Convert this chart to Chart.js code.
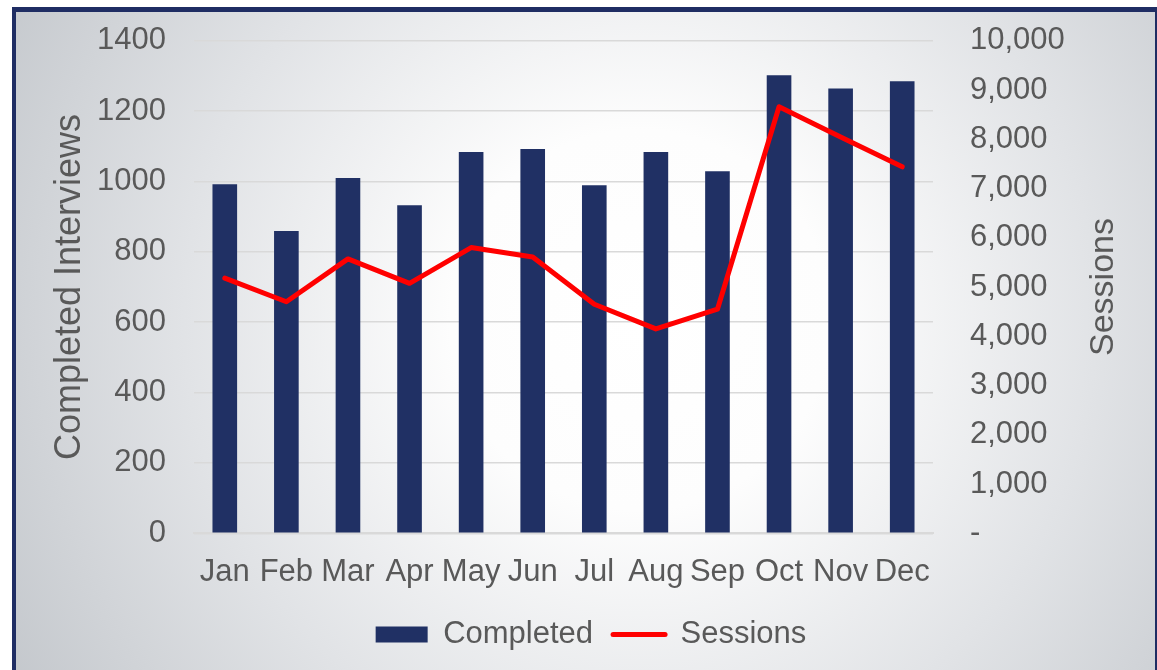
<!DOCTYPE html>
<html>
<head>
<meta charset="utf-8">
<script src="https://cdn.jsdelivr.net/npm/chart.js@4"></script>
<style>
  html, body { margin: 0; padding: 0; background: #ffffff; }
  #wrap { width: 1157px; height: 670px; position: relative; }
  canvas { display: block; }
</style>
</head>
<body>
<div id="wrap"><canvas id="chart" width="1157" height="670"></canvas></div>
<script>
// ---- data ----
const months = ['Jan', 'Feb', 'Mar', 'Apr', 'May', 'Jun', 'Jul', 'Aug', 'Sep', 'Oct', 'Nov', 'Dec'];
const completed = [992, 859, 1010, 932, 1084, 1092, 989, 1084, 1029, 1302, 1264, 1285];
const sessions = [5180, 4700, 5570, 5075, 5800, 5610, 4650, 4150, 4550, 8660, 8045, 7440];
const seriesNames = ['Completed', 'Sessions'];
const axisTitles = ['Completed Interviews', 'Sessions'];
const leftAxisRange = [0, 1400, 200];
const rightAxisRange = [0, 10000, 1000];

const FONT = "'Liberation Sans', Arial, sans-serif";
const FS = 31;
const TXT = '#595959';
const NAVY = '#203064';
const RED = '#ff0000';

const backgroundPlugin = {
  id: 'bgFrame',
  beforeDraw(chart) {
    const ctx = chart.ctx;
    const W = chart.width, H = chart.height;
    ctx.save();
    ctx.fillStyle = '#ffffff';
    ctx.fillRect(0, 0, W, H);
    ctx.fillStyle = '#1f2d63';
    ctx.fillRect(12, 7, W - 12, H - 7);
    const g = ctx.createRadialGradient(640, 320, 0, 640, 320, 760);
    g.addColorStop(0, '#ffffff');
    g.addColorStop(0.25, '#fdfdfd');
    g.addColorStop(0.6, '#e1e3e6');
    g.addColorStop(1, '#c0c4c9');
    ctx.fillStyle = g;
    ctx.fillRect(16, 12, 1155 - 16, H - 12);
    ctx.restore();
  }
};

const rightTitlePlugin = {
  id: 'rightTitle',
  afterDraw(chart) {
    const ctx = chart.ctx;
    const s = chart.scales.y1;
    ctx.save();
    ctx.translate(1104, (s.top + s.bottom) / 2);
    ctx.rotate(-Math.PI / 2);
    ctx.font = '34px ' + FONT;
    ctx.fillStyle = TXT;
    ctx.textAlign = 'center';
    ctx.textBaseline = 'middle';
    ctx.fillText(axisTitles[1], 0, 0);
    ctx.restore();
  }
};

function noVPad(scale) { scale.paddingTop = 0; scale.paddingBottom = 0; }

new Chart(document.getElementById('chart'), {
  data: {
    labels: months,
    datasets: [
      {
        type: 'bar',
        label: seriesNames[0],
        data: completed,
        yAxisID: 'y',
        backgroundColor: NAVY,
        borderWidth: 0,
        categoryPercentage: 1.0,
        barPercentage: 0.4,
        pointStyle: 'rect',
        order: 1
      },
      {
        type: 'line',
        label: seriesNames[1],
        data: sessions,
        yAxisID: 'y1',
        borderColor: RED,
        backgroundColor: RED,
        borderWidth: 5,
        borderJoinStyle: 'round',
        borderCapStyle: 'round',
        pointRadius: 0,
        pointHoverRadius: 0,
        pointBorderWidth: 5,
        pointStyle: 'line',
        tension: 0,
        order: 0
      }
    ]
  },
  options: {
    responsive: false,
    animation: false,
    devicePixelRatio: 1,
    layout: { padding: { left: 25, right: 0, top: 40.7, bottom: 10 } },
    plugins: {
      tooltip: { enabled: false },
      legend: {
        position: 'bottom',
        labels: {
          usePointStyle: true,
          pointStyleWidth: 52,
          boxHeight: 16,
          padding: 20,
          color: TXT,
          font: { family: FONT, size: FS },
          sort: (a, b) => a.datasetIndex - b.datasetIndex,
          generateLabels(chart) {
            const items = Chart.defaults.plugins.legend.labels.generateLabels(chart);
            items.forEach(it => {
              if (it.datasetIndex === 1) {
                it.pointStyle = 'line';
                it.lineWidth = 5;
                it.strokeStyle = RED;
                it.lineCap = 'round';
              } else {
                it.pointStyle = 'rect';
                it.lineWidth = 0;
                it.fillStyle = NAVY;
                it.strokeStyle = NAVY;
              }
            });
            return items;
          }
        }
      }
    },
    scales: {
      x: {
        grid: { display: false, drawTicks: false },
        border: { display: true, color: '#d9d9d9', width: 2 },
        ticks: {
          color: TXT,
          font: { family: FONT, size: FS },
          padding: 21,
          maxRotation: 0,
          minRotation: 0,
          autoSkip: false
        },
        afterFit(scale) { scale.height = 65.7; }
      },
      y: {
        position: 'left',
        min: leftAxisRange[0],
        max: leftAxisRange[1],
        grid: { color: '#d9d9d9', lineWidth: 1.5, drawTicks: false },
        border: { display: false },
        ticks: {
          stepSize: leftAxisRange[2],
          color: TXT,
          font: { family: FONT, size: FS },
          padding: 28,
          callback: v => String(v)
        },
        title: {
          display: true,
          text: axisTitles[0],
          color: TXT,
          font: { family: FONT, size: 36, lineHeight: 1 },
          padding: { top: 27, bottom: 0 }
        },
        afterFit(scale) { scale.width = 169; noVPad(scale); }
      },
      y1: {
        position: 'right',
        min: rightAxisRange[0],
        max: rightAxisRange[1],
        grid: { display: false, drawTicks: false },
        border: { display: false },
        ticks: {
          stepSize: rightAxisRange[2],
          color: TXT,
          font: { family: FONT, size: FS },
          padding: 37,
          callback: v => v === 0 ? '-' : v.toLocaleString('en-US')
        },
        afterFit(scale) { scale.width = 224; noVPad(scale); }
      }
    }
  },
  plugins: [backgroundPlugin, rightTitlePlugin]
});
</script>
</body>
</html>
